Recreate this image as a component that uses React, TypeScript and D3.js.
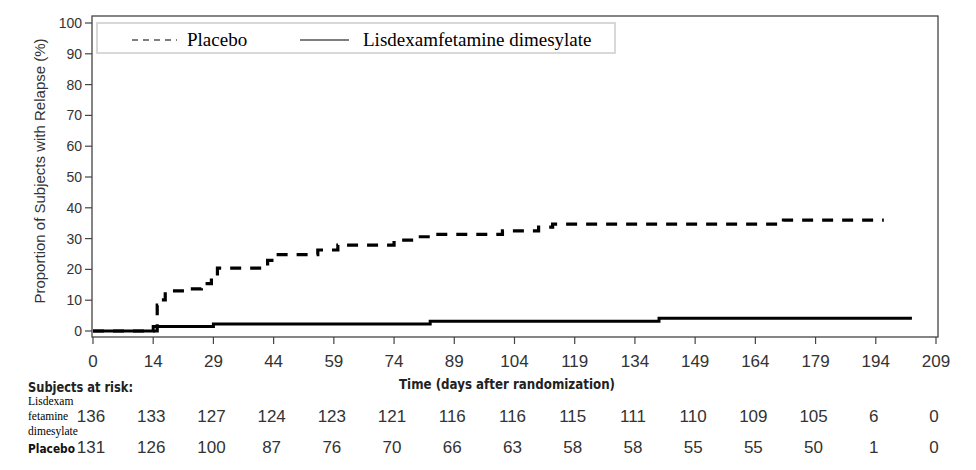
import React from 'react';
import * as d3 from 'd3';

// x tick labels (days) and the at-risk counts under them
const xTicks = [0, 14, 29, 44, 59, 74, 89, 104, 119, 134, 149, 164, 179, 194, 209];
const yTicks = [0, 10, 20, 30, 40, 50, 60, 70, 80, 90, 100];
const riskLisdex = [136, 133, 127, 124, 123, 121, 116, 116, 115, 111, 110, 109, 105, 6, 0];
const riskPlacebo = [131, 126, 100, 87, 76, 70, 66, 63, 58, 58, 55, 55, 50, 1, 0];

// step curves: day of each step and cumulative % relapsed (last point = end of follow-up)
const placeboDays = [0, 15, 15.7, 17, 22.5, 26, 28.5, 30, 41, 42.5, 44.5, 55, 60, 74, 79, 84, 101, 110, 113.5, 171, 196];
const placeboPct = [0, 8.4, 10.1, 13.0, 13.7, 15.4, 17.4, 20.4, 21.0, 22.9, 24.8, 26.3, 27.9, 29.5, 30.6, 31.4, 32.5, 33.7, 34.7, 36.0, 36.0];
const lisdexDays = [0, 14, 29, 83, 140, 203];
const lisdexPct = [0, 1.5, 2.3, 3.2, 4.1, 4.1];

type Pt = { t: number; p: number };
const placebo: Pt[] = placeboDays.map((t, i) => ({ t, p: placeboPct[i] }));
const lisdex: Pt[] = lisdexDays.map((t, i) => ({ t, p: lisdexPct[i] }));

const W = 976;
const H = 470;
const frame = { left: 92, top: 16, right: 938, bottom: 337 };

const App: React.FC = () => {
  // ticks are evenly spaced even though the first interval is 14 days
  const x = d3.scaleLinear().domain([0, 14, 209]).range([93, 153.2, 936]);
  const y = d3.scaleLinear().domain([0, 100]).range([331, 23]);

  const line = d3.line<Pt>()
    .x(d => x(d.t))
    .y(d => y(d.p))
    .curve(d3.curveStepAfter);

  const sans = 'Liberation Sans, Arial, sans-serif';
  const serif = 'Liberation Serif, Times New Roman, serif';
  const cond = 'DejaVu Sans Condensed, DejaVu Sans, sans-serif';
  const tickColor = '#333';

  return (
    <div style={{ position: 'absolute', left: 0, top: 0 }}>
      <svg width={W} height={H} style={{ display: 'block', background: 'white' }}>
        <rect width={W} height={H} fill="white" />

        {/* frame */}
        <rect
          x={frame.left}
          y={frame.top}
          width={frame.right - frame.left}
          height={frame.bottom - frame.top}
          fill="none"
          stroke="#444"
          strokeWidth={1.3}
        />

        {/* y axis */}
        {yTicks.map(v => (
          <g key={'y' + v}>
            <line x1={frame.left - 7} x2={frame.left} y1={y(v)} y2={y(v)} stroke="#444" strokeWidth={1.2} />
            <text x={frame.left - 10} y={y(v) + 5} textAnchor="end" fontFamily={sans} fontSize={14} fill={tickColor}>
              {v}
            </text>
          </g>
        ))}
        <text
          transform="translate(45,171) rotate(-90)"
          textAnchor="middle"
          fontFamily={sans}
          fontSize={15}
          fill={tickColor}
        >
          Proportion of Subjects with Relapse (%)
        </text>

        {/* x axis */}
        {xTicks.map(v => (
          <g key={'x' + v}>
            <line x1={x(v)} x2={x(v)} y1={frame.bottom} y2={frame.bottom + 7} stroke="#444" strokeWidth={1.2} />
            <text x={x(v)} y={367} textAnchor="middle" fontFamily={sans} fontSize={17} fill={tickColor}>
              {v}
            </text>
          </g>
        ))}
        <text x={507} y={389} textAnchor="middle" fontFamily={cond} fontSize={14} fontWeight={600} fill="#222" textLength={216} lengthAdjust="spacingAndGlyphs">
          Time (days after randomization)
        </text>

        {/* curves */}
        <path d={line(lisdex) || ''} fill="none" stroke="#000" strokeWidth={3} />
        <path d={line(placebo) || ''} fill="none" stroke="#000" strokeWidth={3.2} strokeDasharray="11 9" />

        {/* legend */}
        <rect x={97} y={23} width={518} height={30} fill="white" stroke="#ccc" strokeWidth={1.5} />
        <line x1={132} x2={177} y1={40} y2={40} stroke="#555" strokeWidth={1.5} strokeDasharray="6 5" />
        <text x={187} y={46} fontFamily={serif} fontSize={19} fill="#000">Placebo</text>
        <line x1={300} x2={349} y1={40} y2={40} stroke="#555" strokeWidth={1.5} />
        <text x={363} y={46} fontFamily={serif} fontSize={19} fill="#000">Lisdexamfetamine dimesylate</text>

        {/* subjects at risk */}
        <text x={28} y={392} fontFamily={cond} fontSize={14} fontWeight={600} fill="#222" textLength={105} lengthAdjust="spacingAndGlyphs">
          Subjects at risk:
        </text>
        <text fontFamily={serif} fontSize={11.5} fill="#000">
          <tspan x={28} y={405}>Lisdexam</tspan>
          <tspan x={28} y={420}>fetamine</tspan>
          <tspan x={28} y={435}>dimesylate</tspan>
        </text>
        <text x={28} y={453} fontFamily={cond} fontSize={13} fontWeight="bold" fill="#111" textLength={47} lengthAdjust="spacingAndGlyphs">
          Placebo
        </text>
        {xTicks.map((v, i) => (
          <g key={'r' + v}>
            <text x={x(v) - 2} y={422} textAnchor="middle" fontFamily={sans} fontSize={17} fill={tickColor}>
              {riskLisdex[i]}
            </text>
            <text x={x(v) - 2} y={453} textAnchor="middle" fontFamily={sans} fontSize={17} fill={tickColor}>
              {riskPlacebo[i]}
            </text>
          </g>
        ))}
      </svg>
    </div>
  );
};

export default App;
